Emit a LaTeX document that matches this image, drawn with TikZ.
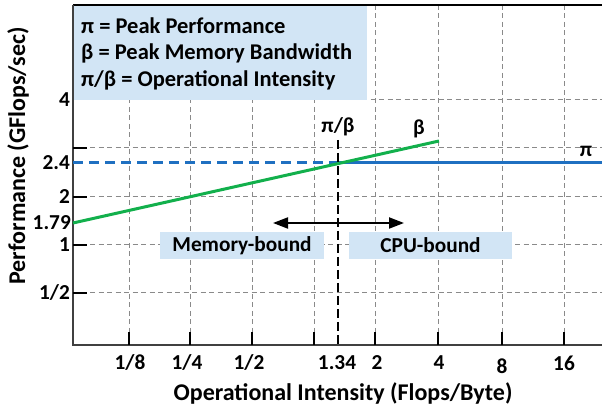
\documentclass[tikz,border=0pt]{standalone}
\usepackage{fontspec}
\setmainfont{Carlito}
\usetikzlibrary{arrows.meta}
\definecolor{boxblue}{HTML}{D2E5F5}
\definecolor{lineblue}{HTML}{1F70C1}
\definecolor{linegreen}{HTML}{12B04C}
\definecolor{gridgray}{HTML}{8A8A8A}
\tikzset{
  grid/.style={draw=gridgray, line width=1pt, dash pattern=on 5pt off 3.5pt},
  tick/.style={draw=black, line width=1.2pt},
  lbl/.style={font=\fontsize{21.3}{24}\selectfont\bfseries, inner sep=0pt},
  leg/.style={font=\fontsize{22.5}{26}\selectfont\bfseries, inner sep=0pt},
  bigl/.style={font=\fontsize{24}{28}\selectfont\bfseries, inner sep=0pt},
  bluebox/.style={fill=boxblue, draw=none, inner sep=0pt},
}
\begin{document}
\begin{tikzpicture}[x=1pt,y=-1pt]
\useasboundingbox (0,0) rectangle (602,411);
% grid
\foreach \gx in {129,190,252,314,375,438,502,564}
  \draw[grid] (\gx,5) -- (\gx,345);
\foreach \gy in {100,148,197,245,293}
  \draw[grid] (73,\gy) -- (602,\gy);
% legend box
\node[bluebox, minimum width=294pt, minimum height=95pt, anchor=north west] (legend) at (73,5) {};
\node[leg, anchor=west] (l1) at (81,26) {π = Peak Performance};
\node[leg, anchor=west] (l2) at (81,53) {β = Peak Memory Bandwidth};
\node[leg, anchor=west] (l3) at (81,80) {π/β = Operational Intensity};
% axes
\draw[black, line width=1.3pt] (73,5) -- (602,5);
\draw[black!75, line width=1.3pt] (73,5) -- (73,345) -- (602,345);
% ticks
\foreach \gy in {148,197,245,293}
  \draw[tick] (73,\gy) -- (87,\gy);
\foreach \gx in {129,190,252,314,375,438,502,564}
  \draw[tick] (\gx,345) -- (\gx,332);
% boxes
\node[bluebox, minimum width=164pt, minimum height=27pt] (mem) at (242,245.5) {};
\node[lbl] (memt) at (242,245.5) {Memory-bound};
\node[bluebox, minimum width=163pt, minimum height=27pt] (cpu) at (430.5,245.5) {};
\node[lbl] (cput) at (430.5,245.5) {CPU-bound};
% roofline
\coordinate (bl) at (73,163);
\coordinate (ridge) at (338,163);
\coordinate (br) at (602,163);
\coordinate (gs) at (73,223);
\coordinate (ge) at (439,141);
\draw[lineblue, line width=3pt, dash pattern=on 10pt off 6pt] (bl) -- (ridge);
\draw[lineblue, line width=3pt] (ridge) -- (br);
\draw[linegreen, line width=3pt] (gs) -- (ge);
% ridge line
\coordinate (rt) at (338,140);
\coordinate (rb) at (338,346);
\draw[black, line width=2.6pt, dash pattern=on 9pt off 4pt] (rt) -- (rb);
% arrow
\coordinate (al) at (273,223);
\coordinate (ar) at (404,223);
\draw[black, line width=2pt, {Triangle[length=15pt,width=11pt]}-{Triangle[length=15pt,width=11pt]}] (al) -- (ar);
% labels
\node[lbl] (pb) at (338,127) {π/β};
\node[lbl] (beta) at (419,129) {β};
\node[lbl] (pi) at (586,151) {π};
% y tick labels
\node[lbl, anchor=east] (y4) at (70,100) {4};
\node[lbl, anchor=east] (y24) at (70,163) {2.4};
\node[lbl, anchor=east] (y2) at (70,197) {2};
\node[lbl, anchor=east] (y179) at (71,223) {1.79};
\node[lbl, anchor=east] (y1) at (70,245) {1};
\node[lbl, anchor=east] (yh) at (70,293) {1/2};
% x tick labels
\node[lbl] (x1) at (130,363) {1/8};
\node[lbl] (x2) at (187,363) {1/4};
\node[lbl] (x3) at (249,363) {1/2};
\node[lbl] (x4) at (337,363) {1.34};
\node[lbl] (x5) at (377,363) {2};
\node[lbl] (x6) at (439,363) {4};
\node[lbl] (x7) at (502,366) {8};
\node[lbl] (x8) at (564,363) {16};
% axis titles
\node[bigl] (xt) at (343,393) {Operational Intensity (Flops/Byte)};
\node[bigl, rotate=90] (yt) at (18,156) {Performance (GFlops/sec)};
\end{tikzpicture}
\end{document}
